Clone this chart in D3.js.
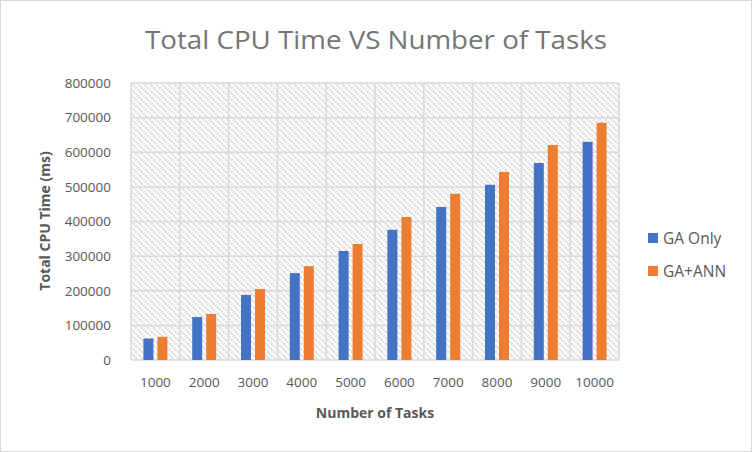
<!DOCTYPE html>
<html><head><meta charset="utf-8">
<script src="https://cdn.jsdelivr.net/npm/d3@7"></script>
<style>body{margin:0;background:#fff}svg{display:block}</style>
</head><body>
<script>
const categories = ["1000","2000","3000","4000","5000","6000","7000","8000","9000","10000"];
const gaOnly = [62000,124000,188000,251000,315000,376000,442000,506000,569000,630000];
const gaAnn  = [67000,133000,205000,271000,335000,413000,480000,543000,621000,685000];
const seriesNames = ["GA Only","GA+ANN"];
const colors = ["#4472c4","#ed7d31"];
const yTicks = [0,100000,200000,300000,400000,500000,600000,700000,800000];

const W=752,H=452;
const m={left:131,right:133,top:83,bottom:92};
const svg=d3.select("body").append("svg").attr("width",W).attr("height",H);
const font="'Open Sans', 'Liberation Sans', sans-serif";

svg.append("rect").attr("x",0.5).attr("y",0.5).attr("width",W-1).attr("height",H-1)
  .attr("fill","#fff").attr("stroke","#d9d9d9");

const defs=svg.append("defs");
const pat=defs.append("pattern").attr("id","hatch").attr("patternUnits","userSpaceOnUse")
  .attr("width",6).attr("height",6);
pat.append("rect").attr("width",6).attr("height",6).attr("fill","#fff");
pat.append("path").attr("d","M-1,-1 L7,7 M-1,5 L1,7 M5,-1 L7,1")
  .attr("stroke","#d4d4d4").attr("stroke-width",2).attr("stroke-dasharray","2,1");

const x=d3.scaleBand().domain(categories).range([m.left,W-m.right]);
const y=d3.scaleLinear().domain([0,800000]).range([H-m.bottom,m.top]);

svg.append("rect").attr("x",m.left).attr("y",m.top).attr("width",x.range()[1]-m.left)
  .attr("height",y(0)-m.top).attr("fill","url(#hatch)");

const g=svg.append("g");
g.selectAll(".hg").data(yTicks).join("line")
  .attr("x1",m.left).attr("x2",x.range()[1]).attr("y1",d=>y(d)).attr("y2",d=>y(d))
  .attr("stroke","#d9d9d9").attr("stroke-width",1.5);
const vx=categories.map(c=>x(c)).concat([x.range()[1]]);
g.selectAll(".vg").data(vx).join("line")
  .attr("x1",d=>d).attr("x2",d=>d).attr("y1",m.top).attr("y2",y(0))
  .attr("stroke","#d9d9d9").attr("stroke-width",1.5);

const inner=d3.scaleBand().domain([0,1]).range([0,x.bandwidth()]).paddingInner(0.286).paddingOuter(0.886);
const data=[gaOnly,gaAnn];
data.forEach((arr,si)=>{
  svg.append("g").selectAll("rect").data(arr).join("rect")
    .attr("x",(d,i)=>x(categories[i])+inner(si))
    .attr("width",inner.bandwidth())
    .attr("y",d=>y(d)).attr("height",d=>y(0)-y(d))
    .attr("fill",colors[si]);
});

const yAxis=svg.append("g").attr("transform",`translate(${m.left-17},0)`)
  .call(d3.axisLeft(y).tickValues(yTicks).tickSize(0).tickFormat(d3.format("d")));
yAxis.select(".domain").remove();
yAxis.selectAll("text").attr("font-family",font).attr("font-size",13.5).attr("fill","#595959");

const xAxis=svg.append("g").attr("transform",`translate(0,${y(0)+14})`)
  .call(d3.axisBottom(x).tickSize(0));
xAxis.select(".domain").remove();
xAxis.selectAll("text").attr("font-family",font).attr("font-size",13.5).attr("fill","#595959");

svg.append("text").attr("x",376).attr("y",49).attr("text-anchor","middle")
  .attr("font-family",font).attr("font-size",26).attr("fill","#757575")
  .attr("textLength",462).attr("lengthAdjust","spacingAndGlyphs")
  .text("Total CPU Time VS Number of Tasks");

svg.append("text").attr("x",375).attr("y",418).attr("text-anchor","middle")
  .attr("font-family",font).attr("font-size",14).attr("font-weight","bold").attr("fill","#595959")
  .text("Number of Tasks");

svg.append("text").attr("transform","translate(50,221) rotate(-90)").attr("text-anchor","middle")
  .attr("font-family",font).attr("font-size",14).attr("font-weight","bold").attr("fill","#595959")
  .text("Total CPU Time (ms)");

const leg=svg.append("g");
seriesNames.forEach((n,i)=>{
  const ly=238+i*33;
  leg.append("rect").attr("x",648).attr("y",ly-5).attr("width",10).attr("height",10).attr("fill",colors[i]);
  leg.append("text").attr("x",663).attr("y",ly+5.5).attr("font-family",font).attr("font-size",15.5)
    .attr("fill","#595959").text(n);
});
</script>
</body></html>
